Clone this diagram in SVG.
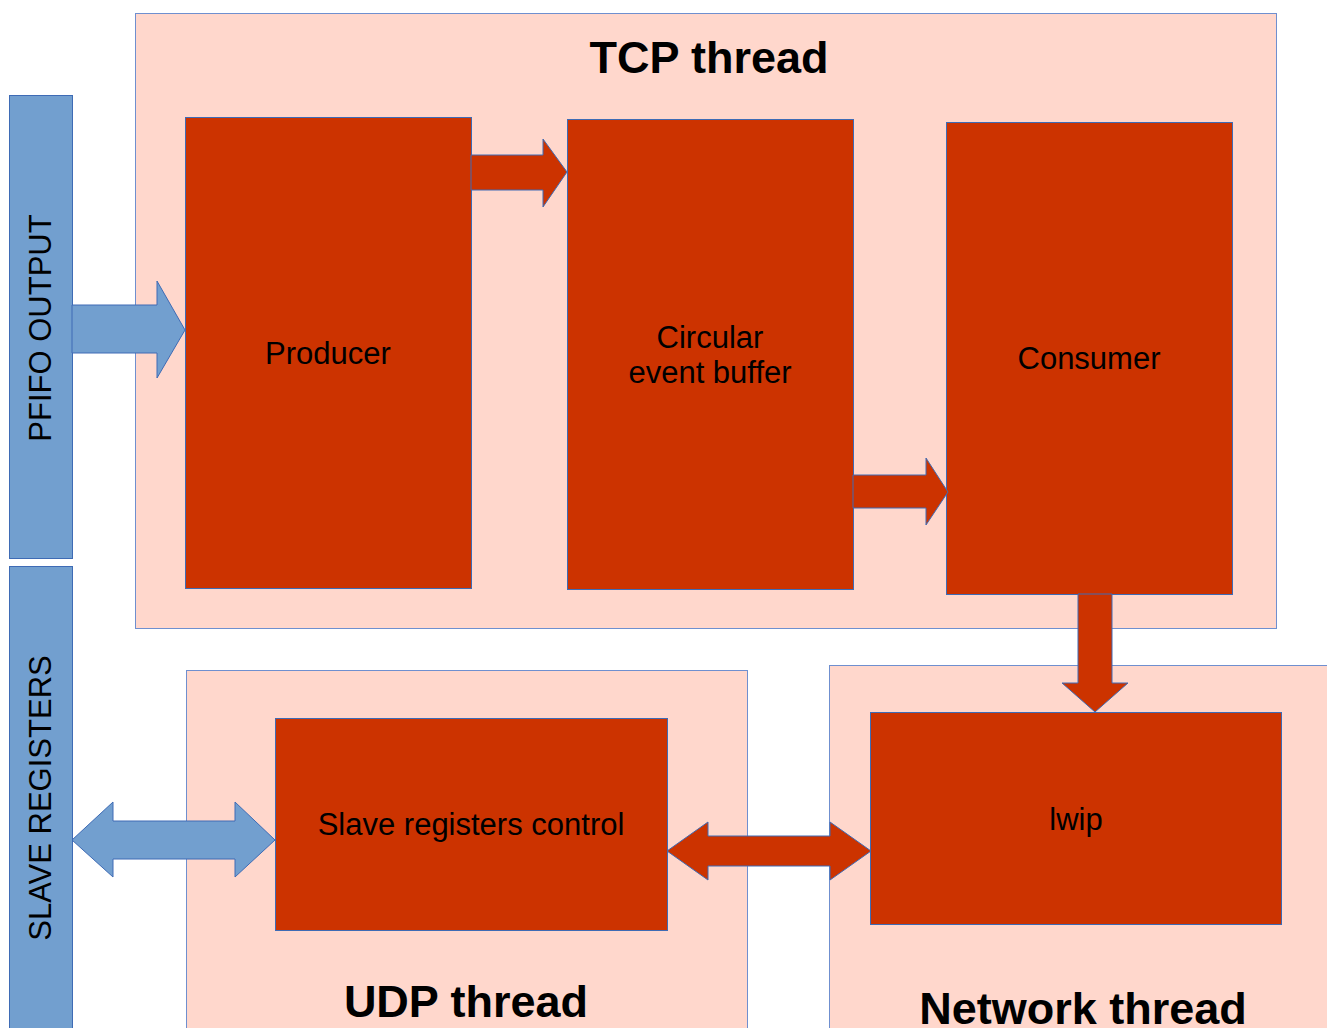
<svg xmlns="http://www.w3.org/2000/svg" width="1327" height="1028" viewBox="0 0 1327 1028">
<style>
.cont{fill:#ffd7cc;stroke:#6f8fcf;stroke-width:1}
.node{fill:#cc3300;stroke:#3e6bb5;stroke-width:1}
.bar{fill:#729fcf;stroke:#3e6bb5;stroke-width:1}
.ar{fill:#cc3300;stroke:#3e6bb5;stroke-width:1;stroke-linejoin:miter}
.ab{fill:#729fcf;stroke:#3e6bb5;stroke-width:1;stroke-linejoin:miter}
.lbl{font-family:"Liberation Sans",Arial,sans-serif;font-size:31px;fill:#000;text-anchor:middle}
.ttl{font-family:"Liberation Sans",Arial,sans-serif;font-size:45px;font-weight:bold;fill:#000;text-anchor:middle}
</style>
<rect width="1327" height="1028" fill="#fff"/>
<g id="tcp-thread">
<rect class="cont" x="135.5" y="13.5" width="1141" height="615"/>
<text class="ttl" x="709" y="73">TCP thread</text>
</g>
<g id="udp-thread">
<rect class="cont" x="186.5" y="670.5" width="561" height="370"/>
<text class="ttl" x="466" y="1017">UDP thread</text>
</g>
<g id="network-thread">
<rect class="cont" x="829.5" y="665.5" width="510" height="375"/>
<text class="ttl" x="1083" y="1024">Network thread</text>
</g>
<g id="pfifo-output">
<rect class="bar" x="9.5" y="95.5" width="63" height="463"/>
<text class="lbl" transform="translate(51,328) rotate(-90)">PFIFO OUTPUT</text>
</g>
<g id="slave-registers">
<rect class="bar" x="9.5" y="566.5" width="63" height="480"/>
<text class="lbl" transform="translate(51,798) rotate(-90)">SLAVE REGISTERS</text>
</g>
<g id="producer">
<rect class="node" x="185.5" y="117.5" width="286" height="471"/>
<text class="lbl" x="328" y="364">Producer</text>
</g>
<g id="circular-buffer">
<rect class="node" x="567.5" y="119.5" width="286" height="470"/>
<text class="lbl" x="710" y="348">Circular</text>
<text class="lbl" x="710" y="383">event buffer</text>
</g>
<g id="consumer">
<rect class="node" x="946.5" y="122.5" width="286" height="472"/>
<text class="lbl" x="1089" y="369">Consumer</text>
</g>
<g id="slave-registers-control">
<rect class="node" x="275.5" y="718.5" width="392" height="212"/>
<text class="lbl" x="471" y="835">Slave registers control</text>
</g>
<g id="lwip">
<rect class="node" x="870.5" y="712.5" width="411" height="212"/>
<text class="lbl" x="1076" y="830">lwip</text>
</g>
<g id="connectors">
<polygon class="ab" points="72,305 157,305 157,281 185,330 157,378 157,353 72,353"/>
<polygon class="ar" points="471,155 543,155 543,139 567,172 543,207 543,190 471,190"/>
<polygon class="ar" points="853,475 926,475 926,458 948,492 926,525 926,508 853,508"/>
<polygon class="ar" points="1078,594 1112,594 1112,683 1128,683 1095,712 1062,683 1078,683"/>
<polygon class="ab" points="72,840 113,802 113,821 235,821 235,802 275,840 235,877 235,859 113,859 113,877"/>
<polygon class="ar" points="667,851 708,822 708,836 830,836 830,822 871,851 830,880 830,866 708,866 708,880"/>
</g>
</svg>
